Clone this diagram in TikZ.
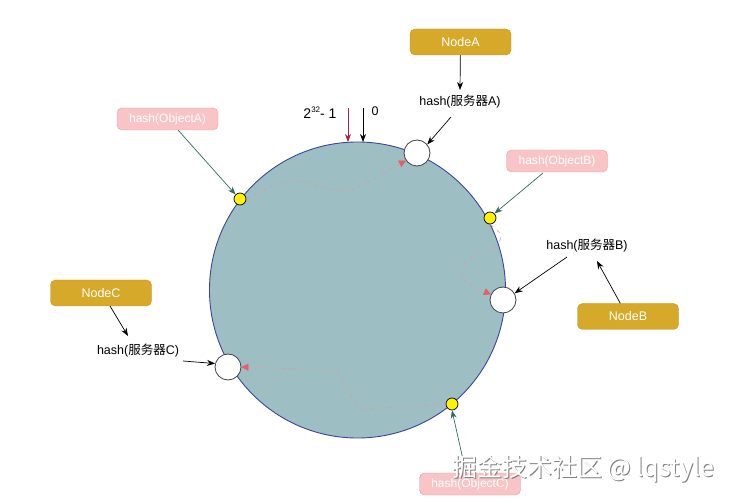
\documentclass[tikz,border=0pt]{standalone}
\usepackage{fontspec}
\setmainfont{Liberation Sans}
\newfontfamily\cjk{Noto Sans CJK SC}
\usetikzlibrary{arrows.meta}
\definecolor{ringfill}{HTML}{9DBEC2}
\definecolor{ringedge}{HTML}{3B45A0}
\definecolor{goldfill}{HTML}{D6A92A}
\definecolor{goldedge}{HTML}{C4961F}
\definecolor{pinkfill}{HTML}{F8C4C6}
\definecolor{pinkedge}{HTML}{E49EA2}
\definecolor{tealarr}{HTML}{2D6A5F}
\definecolor{dashred}{HTML}{E59A9C}
\definecolor{tipred}{HTML}{E85D6A}
\definecolor{darkred}{HTML}{B0203A}
\tikzset{
  nodebox/.style={draw=goldedge, fill=goldfill, rounded corners=5pt, minimum width=101pt, minimum height=26pt, text=white, font=\fontsize{12.5}{14}\selectfont},
  objbox/.style={draw=pinkedge, fill=pinkfill, rounded corners=5pt, minimum width=101pt, minimum height=22pt, text=white, font=\fontsize{12}{14}\selectfont},
  label/.style={font=\fontsize{12.5}{14}\selectfont, text=black, inner sep=1pt},
  server/.style={circle, draw=black!75, fill=white, line width=0.8pt, minimum size=26pt, inner sep=0pt},
  objdot/.style={circle, draw=black, fill=yellow, line width=0.7pt, minimum size=12pt, inner sep=0pt},
  blackarrow/.style={-{Stealth[length=8pt,width=6pt]}, black, line width=0.7pt},
  redarrow/.style={-{Stealth[length=8pt,width=6pt]}, darkred, line width=0.7pt},
  tealarrow/.style={-{Stealth[length=8pt,width=6pt]}, tealarr, line width=0.7pt},
  dashpath/.style={dashred, line width=0.6pt, dash pattern=on 4pt off 5pt, -{Triangle[length=7pt,width=7pt,color=tipred]}},
}
\begin{document}
\begin{tikzpicture}[x=1pt,y=-1pt]
\useasboundingbox (0,0) rectangle (731,502);
% ring
\node[circle, draw=ringedge, fill=ringfill, line width=0.9pt, minimum size=296pt, inner sep=0pt] (ring) at (357.5,290) {};
\coordinate (topred) at (348,142);
\coordinate (topzero) at (363,142);

% servers and objects on ring
\node[server] (srvA) at (417,153) {};
\node[server] (srvB) at (503,300) {};
\node[server] (srvC) at (228,367) {};
\node[objdot] (objA) at (240,199) {};
\node[objdot] (objB) at (490,218) {};
\node[objdot] (objC) at (452,404) {};

% dashed mapping paths
\draw[dashpath] plot[smooth, tension=0.6] coordinates {(objA.east) (273,186) (290,181) (305,182) (318,186) (333,189) (348,191) (363,184) (377,177) (390,169) (srvA.215)};
\draw[dashpath] plot[smooth, tension=0.6] coordinates {(objB.south) (501,236) (492,250) (476,254) (465,263) (462,277) (473,286) (srvB.155)};
\draw[dashpath] (objC.west) -- (366,409) -- (358,407) -- (338,373) -- (330,370) -- (srvC.east);

% top markers
\node[label] (maxlab) at (320,113) {\fontsize{14}{16}\selectfont 2\raisebox{6pt}{\fontsize{8}{9}\selectfont 32}- 1};
\node[label] (zerolab) at (375,111) {0};
\coordinate (redstart) at (348,108);
\coordinate (blackstart) at (363,108);
\draw[redarrow] (redstart) -- (topred);
\draw[blackarrow] (blackstart) -- (topzero);

% server labels and node boxes
\node[nodebox] (nodeA) at (460.5,42) {NodeA};
\node[label] (hashA) at (460,102) {hash({\cjk 服务器}A)};
\draw[blackarrow] (nodeA) -- (460,90) coordinate (hashAtop);
\draw[blackarrow] (451,117) -- (srvA.40);

\node[nodebox] (nodeB) at (628,316.5) {NodeB};
\node[label] (hashB) at (587,246) {hash({\cjk 服务器}B)};
\draw[blackarrow] (nodeB.north west) ++(43,0) coordinate (nbtop) -- (597,261);
\draw[blackarrow] (567,257) -- (srvB.30);

\node[nodebox] (nodeC) at (101,293) {NodeC};
\node[label] (hashC) at (138,351) {hash({\cjk 服务器}C)};
\draw[blackarrow] (110,306) -- (128,336);
\draw[blackarrow] (183,361) -- (srvC.165);

% object boxes
\node[objbox] (boxA) at (167.5,119) {hash(ObjectA)};
\node[objbox] (boxB) at (557,161) {hash(ObjectB)};
\node[objbox] (boxC) at (470,484) {hash(ObjectC)};
\draw[tealarrow] (178,130) -- (objA.north west);
\draw[tealarrow] (543,173) -- (objB.north east);
\draw[tealarrow] (466,473) -- (objC.south);

% watermark
\node[font=\cjk\fontsize{25}{28}\selectfont, text=black!50] (wmshadow) at (584,470) {掘金技术社区 @ lqstyle};
\node[font=\cjk\fontsize{25}{28}\selectfont, text=white] (wm) at (583,469) {掘金技术社区 @ lqstyle};
\end{tikzpicture}
\end{document}
